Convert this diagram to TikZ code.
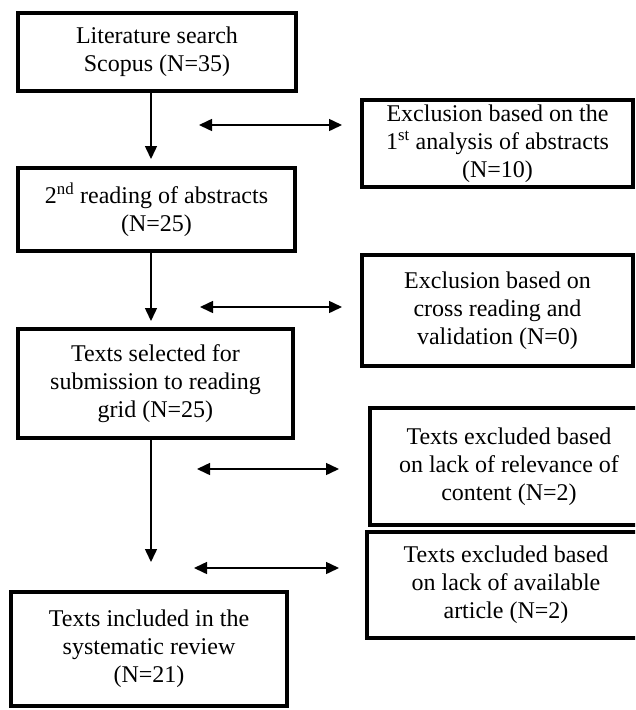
\documentclass[tikz,border=0pt]{standalone}
\usepackage{fontspec}
\setmainfont{Liberation Serif}
\usetikzlibrary{arrows.meta}
\begin{document}
\begin{tikzpicture}[x=1pt,y=-1pt,
  box/.style={draw, line width=3.5pt, align=center, inner sep=0pt,
    font=\fontsize{24}{28}\selectfont},
  tip/.style={Triangle[length=13pt,width=12pt]},
  flow/.style={line width=1.5pt, -{Triangle[length=13pt,width=12pt]}},
  both/.style={line width=1.5pt,
    {Triangle[length=13pt,width=12pt]}-{Triangle[length=13pt,width=12pt]}}]
\useasboundingbox (0,0) rectangle (635,710);
\clip (0,0) rectangle (635,710);

% main column
\node[box, minimum width=278pt, minimum height=78pt] (lit) at (157,52)
  {Literature search\\Scopus (N=35)};
\node[box, minimum width=277pt, minimum height=83pt] (second) at (156.5,209.5)
  {2\textsuperscript{nd} reading of abstracts\\(N=25)};
\node[box, minimum width=275pt, minimum height=109pt] (grid) at (155.5,383.5)
  {Texts selected for\\submission to reading\\grid (N=25)};
\node[box, minimum width=276pt, minimum height=114pt] (incl) at (149,649)
  {Texts included in the\\systematic review\\(N=21)};

% exclusion column
\node[box, minimum width=271pt, minimum height=87pt] (ex1) at (497.5,143.5)
  {Exclusion based on the\\1\textsuperscript{st} analysis of abstracts\\(N=10)};
\node[box, minimum width=271pt, minimum height=111pt] (ex2) at (497.5,310.5)
  {Exclusion based on\\cross reading and\\validation (N=0)};
\node[box, minimum width=278pt, minimum height=117pt] (ex3) at (509,466.5)
  {Texts excluded based\\on lack of relevance of\\content (N=2)};
\node[box, minimum width=278pt, minimum height=106pt] (ex4) at (506,585)
  {Texts excluded based\\on lack of available\\article (N=2)};

% vertical flow arrows
\coordinate (t1) at (151,159);
\coordinate (t2) at (151,321);
\coordinate (t3) at (151,562);
\draw[flow] (lit.south -| t1) -- (t1);
\draw[flow] (second.south -| t2) -- (t2);
\draw[flow] (grid.south -| t3) -- (t3);

% two-headed arrows between the columns
\coordinate (a1l) at (199,125); \coordinate (a1r) at (342,125);
\coordinate (a2l) at (200,307); \coordinate (a2r) at (342,307);
\coordinate (a3l) at (197,469); \coordinate (a3r) at (339,469);
\coordinate (a4l) at (194,568); \coordinate (a4r) at (339,568);
\draw[both] (a1l) -- (a1r);
\draw[both] (a2l) -- (a2r);
\draw[both] (a3l) -- (a3r);
\draw[both] (a4l) -- (a4r);
\end{tikzpicture}
\end{document}
